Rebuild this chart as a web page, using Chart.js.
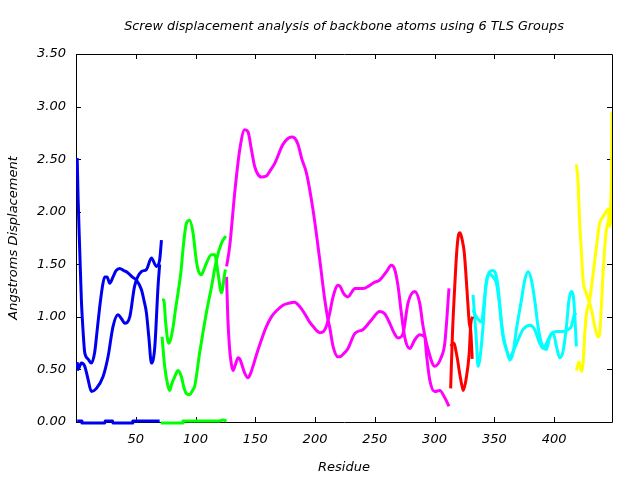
<!DOCTYPE html>
<html>
<head>
<meta charset="utf-8">
<script src="https://cdn.jsdelivr.net/npm/chart.js@4"></script>
<style>
  body { margin: 0; background: #fff; }
  canvas { display: block; }
</style>
</head>
<body>
<canvas id="chart" width="640" height="480"></canvas>
<script>
const chartTitle = 'Screw displacement analysis of backbone atoms using 6 TLS Groups';

// tick labels
const xTicks = [50, 100, 150, 200, 250, 300, 350, 400];
const yTicks = [0, 0.5, 1, 1.5, 2, 2.5, 3, 3.5];

// [residue, displacement] per TLS group, two screw axes each (+ near-zero third axis)
const blueA = [[1,2.51],[1.8,2.11],[3.1,1.64],[4.5,1.16],[6,0.85],[7.3,0.66],[10,0.6],[12.9,0.56],[15.6,0.66],[17.5,0.85],[19.8,1.09],[22,1.28],[24,1.38],[26,1.38],[28.2,1.32],[31,1.38],[33.5,1.44],[36.6,1.46],[40,1.44],[43.3,1.42],[47,1.38],[50.5,1.35],[54.7,1.26],[57,1.15],[58.9,1.04],[61,0.8],[63.1,0.56],[65.9,0.71],[68.6,1.28],[70,1.5]];
const blueB = [[1,0.57],[1.7,0.5],[4.5,0.56],[7.3,0.53],[9.8,0.42],[12.9,0.29],[17.1,0.32],[22.6,0.43],[26.8,0.62],[31,0.91],[35.1,1.02],[38.2,0.98],[40.8,0.94],[45,1.0],[49,1.29],[54.7,1.43],[58.9,1.45],[63.1,1.56],[67.3,1.48],[70,1.54],[71.5,1.73]];
const blueZero = [[1,0.01],[4.5,0.01],[5,-0.01],[24,-0.01],[24.5,0.01],[30.5,0.01],[31,-0.01],[47,-0.01],[47.5,0.01],[70,0.01]];

const greenC = [[72,1.16],[73.5,1.16],[75,0.95],[77.5,0.75],[79,0.78],[81.2,0.9],[83,1.05],[85.4,1.23],[88,1.45],[89.5,1.64],[92.4,1.89],[95.1,1.92],[97.9,1.8],[100.5,1.55],[102.1,1.45],[104.9,1.4],[107,1.45],[109.1,1.51],[113.3,1.59],[116.1,1.59],[118.9,1.41],[121.7,1.23],[124.4,1.41],[125,1.45]];
const greenD = [[72,0.81],[74.2,0.53],[77,0.34],[78.4,0.3],[80,0.36],[82.6,0.43],[85.4,0.49],[88.2,0.43],[90.5,0.32],[92.4,0.27],[95.1,0.26],[97.5,0.3],[99.3,0.34],[103.5,0.66],[109.1,1.04],[113.3,1.28],[117.5,1.54],[121.7,1.7],[125.3,1.77]];
const greenZero = [[71,-0.01],[89,-0.01],[89.5,0.01],[120,0.01],[123,0.02],[126,0.01]];

const magentaE = [[126,1.48],[128.6,1.67],[132.8,2.18],[137,2.59],[141.2,2.78],[143.9,2.76],[146.8,2.59],[149.5,2.43],[152,2.36],[155.1,2.33],[159.3,2.34],[163,2.4],[166.3,2.46],[173.2,2.64],[180.3,2.71],[183,2.7],[185.8,2.64],[189,2.5],[192.8,2.37],[198.3,2.02],[204,1.54],[208.2,1.16],[210.9,0.97],[212.3,0.9],[215.1,0.72],[219.2,0.62],[220.6,0.62],[224,0.65],[227.6,0.7],[233.2,0.84],[240.2,0.88],[247.2,0.97],[254.1,1.05],[258.3,1.03],[262.5,0.94],[266,0.85],[269.5,0.8],[273.6,0.84],[277.8,1.13],[283.4,1.24],[287.6,1.13],[290.4,0.91],[294.6,0.69],[300.2,0.53],[305.8,0.62],[308.6,0.75],[312.1,1.27]];
const magentaF = [[126,1.38],[127,1.0],[128.5,0.7],[130,0.55],[131.4,0.49],[133.5,0.55],[135.6,0.61],[137,0.6],[138.4,0.56],[141,0.47],[143.9,0.42],[146,0.46],[148.1,0.53],[151,0.64],[155.1,0.78],[159,0.9],[163.5,1.0],[168,1.06],[173.2,1.11],[178,1.13],[183,1.14],[187,1.1],[191.4,1.03],[195,0.96],[198.3,0.91],[204,0.85],[207,0.86],[209.5,0.91],[212,1.02],[215.1,1.19],[219.2,1.3],[221,1.29],[224,1.22],[227.6,1.19],[231,1.24],[233.2,1.27],[237.4,1.27],[240.2,1.27],[245.8,1.3],[250,1.33],[254.1,1.35],[259.8,1.43],[263.9,1.49],[266.7,1.45],[269.5,1.29],[272.3,1.03],[275,0.81],[279.2,0.7],[283.4,0.78],[287.6,0.83],[291.8,0.81],[293.2,0.65],[296,0.4],[300.2,0.29],[304.4,0.3],[308.6,0.23],[312.1,0.15]];

const redG = [[313.5,0.32],[315,0.84],[316.5,1.2],[317.8,1.48],[319,1.68],[320.1,1.78],[321.4,1.8],[323,1.74],[324.9,1.61],[326.3,1.4],[327.7,1.16],[329,0.95],[330.4,0.85],[331.5,0.6]];
const redH = [[313.5,0.72],[315,0.74],[316.4,0.75],[318,0.67],[319.3,0.59],[320.5,0.5],[322,0.4],[324,0.3],[326.3,0.4],[329,0.65],[330.4,0.94],[332,1.0]];

const cyanI = [[332.2,1.07],[335,1.0],[337,0.97],[339.2,0.95],[342,1.19],[343.4,1.32],[346.1,1.43],[348.5,1.44],[350.4,1.43],[353.1,1.29],[356,0.94],[358.8,0.75],[363,0.62],[365.7,0.67],[369.9,0.78],[374.1,0.88],[379.7,0.92],[383.8,0.88],[388,0.75],[390.8,0.7],[395,0.78],[397.8,0.84],[402,0.86],[407.5,0.86],[411.7,0.88],[414.5,0.91],[417.3,1.03],[418.7,1.02]];
const cyanJ = [[332.2,1.21],[333.6,1.0],[335,0.78],[336.4,0.53],[337.8,0.59],[340.6,0.91],[342.8,1.29],[345.6,1.41],[348.9,1.38],[351.8,1.32],[354.6,1.1],[357.3,0.81],[360.2,0.69],[363,0.59],[365.7,0.66],[368.5,0.88],[372.7,1.16],[375.5,1.35],[378.3,1.43],[381.1,1.35],[383.8,1.16],[386.6,0.91],[389.5,0.75],[393.7,0.69],[396.4,0.81],[399.2,0.85],[402,0.72],[404.8,0.61],[407.5,0.67],[410.4,0.91],[412.5,1.16],[414.5,1.24],[416.5,1.16],[418.7,0.72]];

const yellowK = [[418.7,2.45],[420,2.3],[421.5,1.89],[423,1.6],[424.3,1.35],[427.1,1.22],[431.3,1.07],[434.1,0.91],[436.8,0.81],[438.2,0.84],[439.6,1.1],[441,1.41],[443.8,1.83],[446.6,1.98],[448,2.3],[448.5,2.95]];
const yellowL = [[418.7,0.49],[420.9,0.57],[422.9,0.48],[424.3,0.56],[425.7,0.84],[427.1,1.03],[429.3,1.13],[432.1,1.35],[435.5,1.67],[438.2,1.89],[441,1.95],[442.4,1.98],[445.2,2.02],[446.6,1.86],[448.5,2.03]];

const BLUE = '#0000f0', GREEN = '#00ff00', MAGENTA = '#ff00ff', RED = '#ff0000', CYAN = '#00ffff', YELLOW = '#ffff00';

function series(points, color, straight) {
    return {
        data: points.map(p => ({ x: p[0], y: p[1] })),
        borderColor: color,
        backgroundColor: color,
        borderWidth: 3,
        borderJoinStyle: 'round',
        pointRadius: 0,
        fill: false,
        clip: straight ? false : undefined,
        tension: straight ? 0 : 0.4,
        cubicInterpolationMode: straight ? 'default' : 'monotone'
    };
}

const fontFamily = 'DejaVu Sans';
const font = { family: fontFamily, style: 'italic' };

// gnuplot style frame with inward ticks on all four sides, title centred over the plot
const framePlugin = {
    id: 'frame',
    beforeDatasetsDraw(chart) {
        const { ctx, chartArea: a, scales } = chart;
        const len = 5;
        ctx.save();
        ctx.strokeStyle = '#000';
        ctx.lineWidth = 1;
        ctx.beginPath();
        ctx.rect(a.left + 0.5, a.top + 0.5, a.right - a.left, a.bottom - a.top);
        xTicks.forEach(v => {
            const x = Math.round(scales.x.getPixelForValue(v)) + 0.5;
            ctx.moveTo(x, a.bottom); ctx.lineTo(x, a.bottom - len);
            ctx.moveTo(x, a.top); ctx.lineTo(x, a.top + len);
        });
        yTicks.forEach(v => {
            const y = Math.round(scales.y.getPixelForValue(v)) + 0.5;
            ctx.moveTo(a.left, y); ctx.lineTo(a.left + len, y);
            ctx.moveTo(a.right, y); ctx.lineTo(a.right - len, y);
        });
        ctx.stroke();

        ctx.fillStyle = '#000';
        ctx.font = 'italic 12.8px "' + fontFamily + '"';
        ctx.textAlign = 'center';
        ctx.textBaseline = 'middle';
        ctx.fillText(chartTitle, (a.left + a.right) / 2, 27);
        ctx.restore();
    }
};

new Chart(document.getElementById('chart'), {
    type: 'line',
    data: {
        datasets: [
            series(blueZero, BLUE, true),
            series(greenZero, GREEN, true),
            series(blueA, BLUE),
            series(blueB, BLUE),
            series(greenC, GREEN),
            series(greenD, GREEN),
            series(magentaE, MAGENTA),
            series(magentaF, MAGENTA),
            series(redG, RED),
            series(redH, RED),
            series(cyanI, CYAN),
            series(cyanJ, CYAN),
            series(yellowK, YELLOW),
            series(yellowL, YELLOW)
        ]
    },
    options: {
        responsive: false,
        animation: false,
        devicePixelRatio: 1,
        layout: { padding: { left: 0, right: 28, top: 54, bottom: 0 } },
        plugins: {
            legend: { display: false },
            tooltip: { enabled: false },
            title: { display: false }
        },
        scales: {
            x: {
                type: 'linear',
                min: 0,
                max: 448.5,
                grid: { display: false, drawTicks: false },
                border: { display: false },
                afterFit(scale) { scale.height = 58; },
                afterBuildTicks(scale) { scale.ticks = xTicks.map(v => ({ value: v })); },
                ticks: { color: '#000', font: { ...font, size: 13 }, padding: 10, maxRotation: 0 },
                title: { display: true, text: 'Residue', color: '#000', font: { ...font, size: 13 }, padding: { top: 0, bottom: 5 } }
            },
            y: {
                min: 0,
                max: 3.5,
                grid: { display: false, drawTicks: false },
                border: { display: false },
                afterFit(scale) { scale.width = 76; },
                afterBuildTicks(scale) { scale.ticks = yTicks.map(v => ({ value: v })); },
                ticks: { color: '#000', font: { ...font, size: 13 }, padding: 10, callback: v => v.toFixed(2) },
                title: { display: true, text: 'Angstroms Displacement', color: '#000', font: { ...font, size: 13 }, padding: { top: 6, bottom: 0 } }
            }
        }
    },
    plugins: [framePlugin]
});
</script>
</body>
</html>
